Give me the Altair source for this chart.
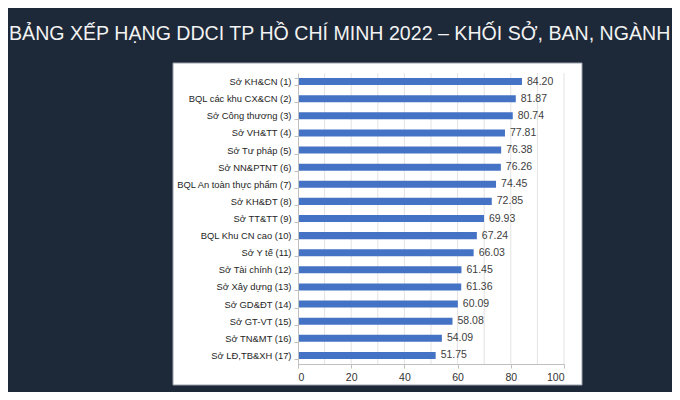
import altair as alt
import pandas as pd

title_text = "BẢNG XẾP HẠNG DDCI TP HỒ CHÍ MINH 2022 – KHỐI SỞ, BAN, NGÀNH"
units = ["Sở KH&CN (1)", "BQL các khu CX&CN (2)", "Sở Công thương (3)", "Sở VH&TT (4)",
         "Sở Tư pháp (5)", "Sở NN&PTNT  (6)", "BQL An toàn thực phẩm (7)", "Sở KH&ĐT (8)",
         "Sở TT&TT (9)", "BQL Khu CN cao (10)", "Sở Y tế (11)", "Sở Tài chính (12)",
         "Sở Xây dựng (13)", "Sở GD&ĐT (14)", "Sở GT-VT  (15)", "Sở TN&MT  (16)",
         "Sở LĐ,TB&XH (17)"]
scores = [84.20, 81.87, 80.74, 77.81, 76.38, 76.26, 74.45, 72.85, 69.93,
          67.24, 66.03, 61.45, 61.36, 60.09, 58.08, 54.09, 51.75]
x_ticks = [0, 10, 20, 30, 40, 50, 60, 70, 80, 90, 100]

df = pd.DataFrame({"unit": units, "score": scores})
grid_df = pd.DataFrame({"v": x_ticks[1:]})

FONT = "Liberation Sans, Arial, sans-serif"

xscale = alt.Scale(domain=[0, 100], nice=False, zero=True)
yscale = alt.Scale(domain=units, paddingInner=0.59, paddingOuter=0.295)

panel = alt.Chart(pd.DataFrame({"a": [0]})).mark_rect(
    fill="white", stroke="#9aa0a8", strokeWidth=1, clip=False
).encode(
    x=alt.value(-125), x2=alt.value(284), y=alt.value(-10), y2=alt.value(312)
)

grid = alt.Chart(grid_df).mark_rule(color="#e3e3e3", strokeWidth=1).encode(
    x=alt.X("v:Q", scale=xscale),
    y=alt.value(0), y2=alt.value(291)
)

bars = alt.Chart(df).mark_bar(color="#4472C4").encode(
    x=alt.X("score:Q", scale=xscale,
            axis=alt.Axis(values=x_ticks, title=None, grid=False, zindex=1,
                          domainColor="#bfbfbf", tickColor="#bfbfbf", tickSize=4,
                          labelColor="#333333", labelFont=FONT, labelFontSize=10.5,
                          labelPadding=4)),
    y=alt.Y("unit:N", scale=yscale, sort=units,
            axis=alt.Axis(title=None, grid=False, zindex=1, tickBand="extent",
                          domainColor="#bfbfbf", tickColor="#bfbfbf", tickSize=4,
                          labelColor="#262626", labelFont=FONT, labelFontSize=9.4,
                          labelPadding=3, labelLimit=300))
)

labels = alt.Chart(df).mark_text(
    align="left", baseline="middle", dx=5, font=FONT, fontSize=10.5, color="#404040"
).encode(
    x=alt.X("score:Q", scale=xscale),
    y=alt.Y("unit:N", scale=yscale, sort=units),
    text=alt.Text("score:Q", format=".2f")
)

chart = alt.layer(panel, grid, bars, labels).properties(
    width=266, height=291,
    background="#1d2838",
    autosize=alt.AutoSizeParams(type="none"),
    padding={"left": 290, "top": 65, "right": 108, "bottom": 28},
    title=alt.TitleParams(title_text, anchor="start", frame="group", dx=-289, dy=17,
                          font=FONT, fontSize=19.6, fontWeight="normal", color="#f2f2f2",
                          baseline="alphabetic", offset=20)
).configure_view(stroke=None)

chart.save("out.html", embed_options={"renderer": "svg", "actions": False})
